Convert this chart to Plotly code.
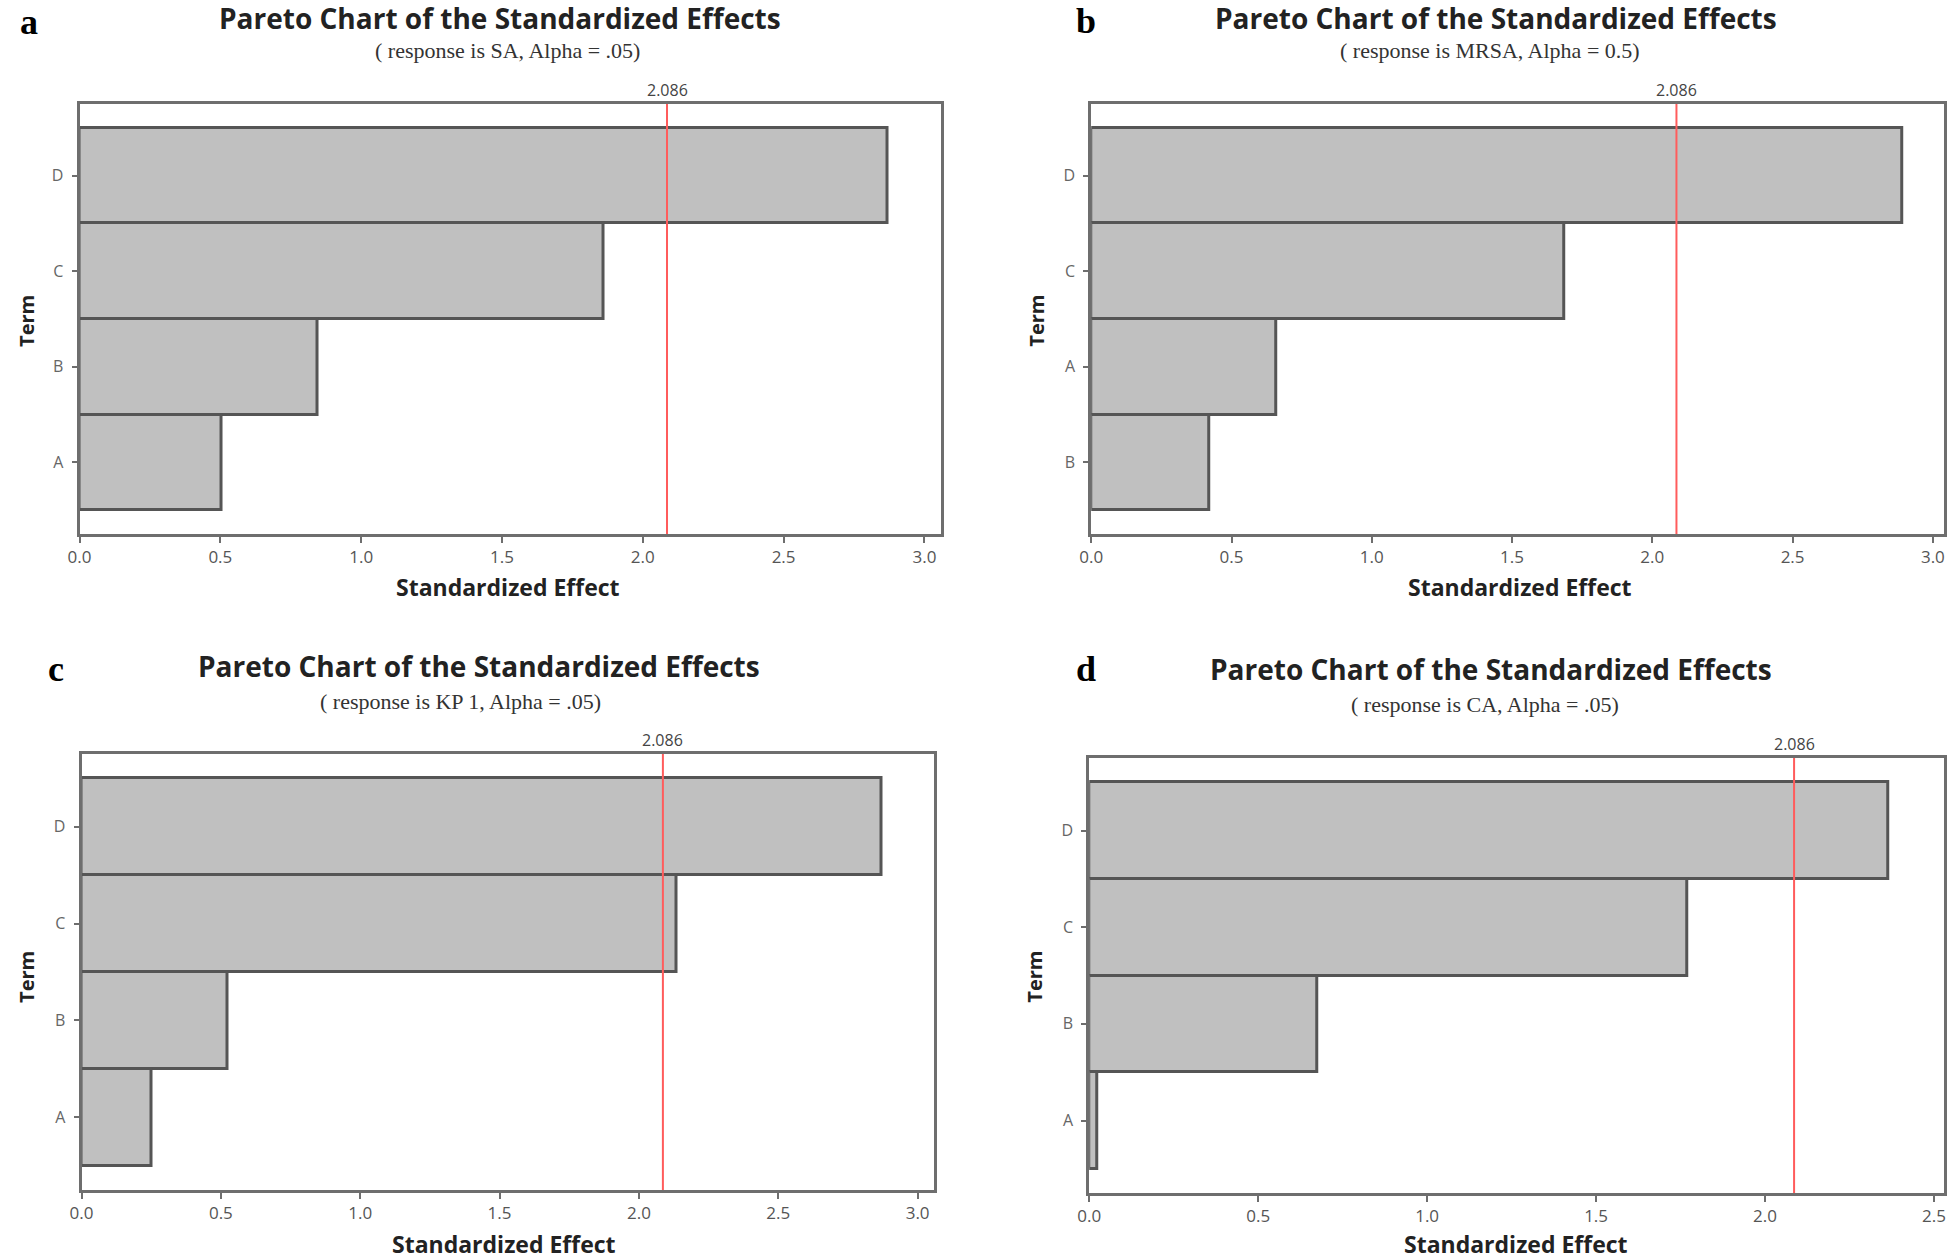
import plotly.graph_objects as go

W, H = 1960, 1260

# ---------------- data ----------------
terms_a = ["D", "C", "B", "A"]
effects_a = [2.87, 1.86, 0.845, 0.505]
terms_b = ["D", "C", "A", "B"]
effects_b = [2.89, 1.685, 0.66, 0.42]
terms_c = ["D", "C", "B", "A"]
effects_c = [2.87, 2.135, 0.525, 0.25]
terms_d = ["D", "C", "B", "A"]
effects_d = [2.365, 1.77, 0.675, 0.025]

critical_value = 2.086
chart_title = "Pareto Chart of the Standardized Effects"
subtitles = [
    "( response is SA, Alpha = .05)",
    "( response is MRSA, Alpha = 0.5)",
    "( response is KP 1, Alpha = .05)",
    "( response is CA, Alpha = .05)",
]
panel_letters = ["a", "b", "c", "d"]
x_tick_vals_3 = [0.0, 0.5, 1.0, 1.5, 2.0, 2.5, 3.0]
x_tick_vals_25 = [0.0, 0.5, 1.0, 1.5, 2.0, 2.5]

# ---------------- layout (pixels) ----------------
panels = [
    dict(terms=terms_a, vals=effects_a, xd=(68, 936), yd=(104, 534), xmax=3.06, ticks=x_tick_vals_3,
         title=(492, 18), sub=(499, 51), letter=(6, 22), term=(14, 321), xt=(500, 587)),
    dict(terms=terms_b, vals=effects_b, xd=(1087, 1946), yd=(104, 534), xmax=3.04, ticks=x_tick_vals_3,
         title=(1495, 18), sub=(1489, 51), letter=(1070, 21), term=(1031, 321), xt=(1519, 587)),
    dict(terms=terms_c, vals=effects_c, xd=(70, 929), yd=(754, 1190), xmax=3.06, ticks=x_tick_vals_3,
         title=(470, 666), sub=(452, 701), letter=(34, 669), term=(14, 977), xt=(496, 1244)),
    dict(terms=terms_d, vals=effects_d, xd=(1085, 1946), yd=(758, 1193), xmax=2.53, ticks=x_tick_vals_25,
         title=(1490, 669), sub=(1484, 704), letter=(1070, 669), term=(1029, 977), xt=(1515, 1244)),
]


def px(x):
    return x / W


def py(y):
    return 1 - y / H


fig = go.Figure()
annotations = []
shapes = []

SANS = "'Open Sans', Lato, sans-serif"
SERIF = "'Liberation Serif', 'Times New Roman', serif"
BOX = "#6e6e6e"

for i, p in enumerate(panels):
    n = i + 1
    xa = "x" if n == 1 else f"x{n}"
    ya = "y" if n == 1 else f"y{n}"
    xkey = "xaxis" if n == 1 else f"xaxis{n}"
    ykey = "yaxis" if n == 1 else f"yaxis{n}"

    fig.add_trace(go.Bar(
        x=p["vals"], y=p["terms"], orientation="h", width=1.0,
        marker=dict(color="#c0c0c0", line=dict(color="#555555", width=3)),
        xaxis=xa, yaxis=ya, showlegend=False, hoverinfo="x+y",
    ))

    fig.layout[xkey] = dict(
        domain=[px(p["xd"][0]), px(p["xd"][1])], anchor=ya,
        range=[0, p["xmax"]], tickvals=p["ticks"], tickformat=".1f",
        showline=True, mirror=True, linecolor=BOX, linewidth=3,
        ticks="outside", ticklen=6, tickwidth=2, tickcolor=BOX,
        showgrid=False, zeroline=False,
        tickfont=dict(family=SANS, size=17, color="#555555"),
    )
    fig.layout[ykey] = dict(
        domain=[py(p["yd"][1]), py(p["yd"][0])], anchor=xa,
        type="category", categoryorder="array", categoryarray=list(reversed(p["terms"])),
        range=[-0.75, 3.75],
        showline=True, mirror=True, linecolor=BOX, linewidth=3,
        ticks="outside", ticklen=5, tickwidth=2, tickcolor=BOX,
        ticklabelstandoff=5,
        showgrid=False, zeroline=False,
        tickfont=dict(family=SANS, size=16, color="#666666"),
    )

    # reference line
    shapes.append(dict(type="line", xref=xa, yref=f"{ya} domain",
                       x0=critical_value, x1=critical_value, y0=0, y1=1,
                       line=dict(color="#ff5c5c", width=2), layer="above"))
    annotations.append(dict(xref=xa, yref=f"{ya} domain", x=critical_value, y=1,
                            yanchor="bottom", xanchor="center", yshift=1,
                            text=f"{critical_value:.3f}", showarrow=False,
                            font=dict(family=SANS, size=16, color="#444444")))

    # titles
    annotations.append(dict(xref="paper", yref="paper", x=px(p["title"][0]), y=py(p["title"][1]),
                            xanchor="center", yanchor="middle", showarrow=False,
                            text=f"<b>{chart_title}</b>",
                            font=dict(family=SANS, size=28, color="#222222")))
    annotations.append(dict(xref="paper", yref="paper", x=px(p["sub"][0]), y=py(p["sub"][1]),
                            xanchor="center", yanchor="middle", showarrow=False,
                            text=subtitles[i],
                            font=dict(family=SERIF, size=22, color="#333333")))
    annotations.append(dict(xref="paper", yref="paper", x=px(p["letter"][0]), y=py(p["letter"][1]),
                            xanchor="left", yanchor="middle", showarrow=False,
                            text=f"<b>{panel_letters[i]}</b>",
                            font=dict(family=SERIF, size=36, color="#000000")))
    annotations.append(dict(xref="paper", yref="paper", x=px(p["term"][0]), y=py(p["term"][1]),
                            xanchor="center", yanchor="middle", showarrow=False, textangle=-90,
                            text="<b>Term</b>",
                            font=dict(family=SANS, size=20, color="#222222")))
    annotations.append(dict(xref="paper", yref="paper", x=px(p["xt"][0]), y=py(p["xt"][1]),
                            xanchor="center", yanchor="middle", showarrow=False,
                            text="<b>Standardized Effect</b>",
                            font=dict(family=SANS, size=23, color="#222222")))

fig.update_layout(
    width=W, height=H, margin=dict(l=0, r=0, t=0, b=0),
    paper_bgcolor="white", plot_bgcolor="white",
    annotations=annotations, shapes=shapes, bargap=0,
)

fig.write_html(
    "out.html",
    config={"displayModeBar": False},
    post_script="document.body.style.margin='0';document.body.style.overflow='hidden';",
)
